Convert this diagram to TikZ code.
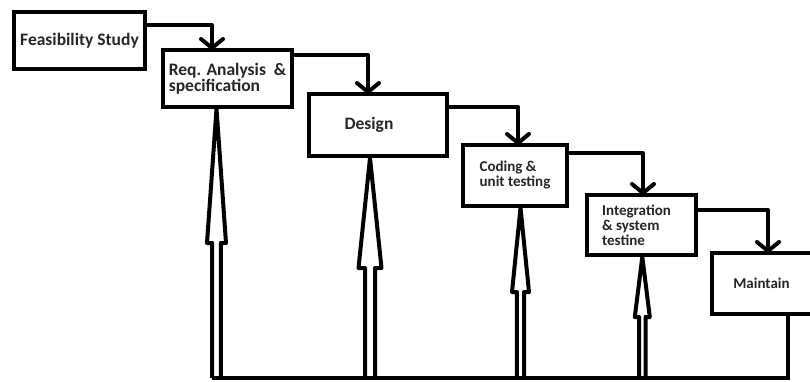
\documentclass[tikz,border=0pt]{standalone}
\usepackage{fontspec}
\setmainfont{Carlito}
\usetikzlibrary{arrows.meta}
\tikzset{
  box/.style={draw=black, line width=4pt, rectangle, inner sep=0pt, align=left,
    text=black!85, font=\bfseries\fontsize{17.5}{16}\selectfont},
  smallbox/.style={box, font=\bfseries\fontsize{15}{15}\selectfont},
  stepline/.style={draw=black, line width=4pt, line join=round},
  fbline/.style={draw=black, line width=4pt, line join=round},
  returnline/.style={draw=black, line width=4pt}
}
\newcommand\fbarrow[5]{% target node, x, base y, head half width, shaft half gap
  \coordinate (tip#1) at (#1.south -| #2,0);
  \draw[fbline] (#2-#5,378) -- (#2-#5,#3) -- (#2-#4,#3) -- (tip#1)
     -- (#2+#4,#3) -- (#2+#5,#3) -- (#2+#5,378);
}
\newcommand\stepconn[3]{% from node, bend coordinate, to node
  \coordinate (e#3) at (#3.north -| #2);
  \draw[stepline] (#1.east |- #2) -- (#2) -- (e#3);
  \draw[stepline, line cap=round] ([xshift=-11pt,yshift=9pt]e#3) -- (e#3) -- ([xshift=11pt,yshift=9pt]e#3);
}
\begin{document}
\begin{tikzpicture}[x=1pt,y=-1pt]
\useasboundingbox[fill=white] (0,0) rectangle (810,381);
% boxes
\node[box, minimum width=131pt, minimum height=57pt] (fs) at (79.5,40.5) {Feasibility Study};
\node[box, minimum width=129pt, minimum height=57pt] (req) at (227.5,78.5) {Req. Analysis\ \ \&\\specification};
\node[box, minimum width=138pt, minimum height=62pt] (des) at (378,125) {Design\hspace*{18pt}};
\node[smallbox, minimum width=104pt, minimum height=61pt] (cod) at (515,175.5) {Coding \&\\unit testing};
\node[smallbox, minimum width=109pt, minimum height=60pt] (int) at (641.5,225) {Integration\hspace*{10pt}\\\& system\\testine};
\node[smallbox, minimum width=112pt, minimum height=61pt] (mnt) at (768,283.5) {Maintain\hspace*{13pt}};
% step connectors
\coordinate (b1) at (212,25);
\coordinate (b2) at (368,55);
\coordinate (b3) at (518,107);
\coordinate (b4) at (643,153);
\coordinate (b5) at (768,210);
\stepconn{fs}{b1}{req}
\stepconn{req}{b2}{des}
\stepconn{des}{b3}{cod}
\stepconn{cod}{b4}{int}
\stepconn{int}{b5}{mnt}
% bottom return line
\coordinate (bl) at (788,378);
\coordinate (br) at (212,378);
\draw[returnline] (mnt.south -| bl) -- (bl) -- (br);
% feedback arrows
\fbarrow{req}{216.5}{243}{9.5}{4.3}
\fbarrow{des}{370}{268}{11.5}{5}
\fbarrow{cod}{520.5}{292}{8.5}{3.6}
\fbarrow{int}{642.3}{317}{7.5}{3.2}
\end{tikzpicture}
\end{document}
